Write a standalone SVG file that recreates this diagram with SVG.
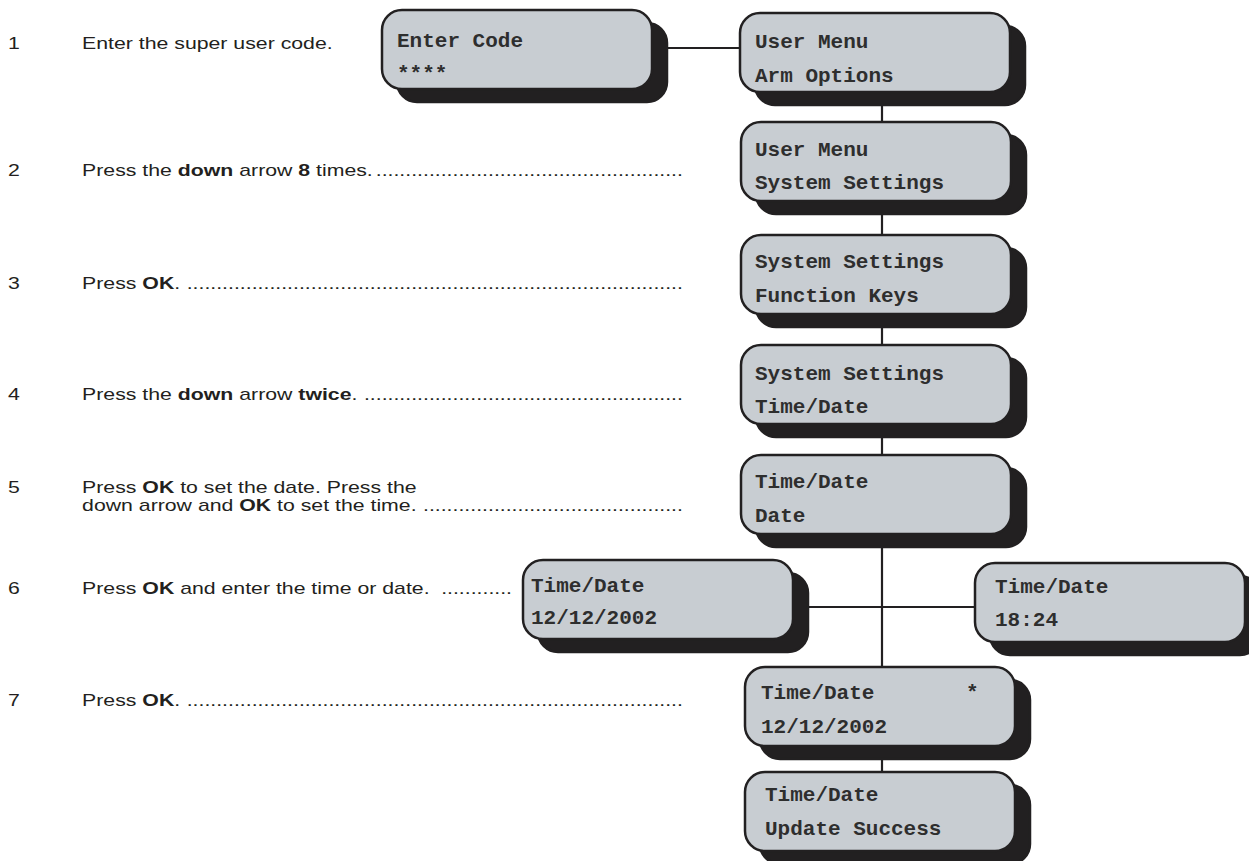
<svg xmlns="http://www.w3.org/2000/svg" width="1249" height="861" viewBox="0 0 1249 861">
<style>
.sh{fill:#222021;stroke:#222021;stroke-width:2.5}
.bx{fill:#c8cdd2;stroke:#222021;stroke-width:2.5}
.mono{font-family:"Liberation Mono","Courier New",monospace;font-weight:bold;font-size:21px;fill:#2e2e2e}
.st{font-family:"Liberation Sans",Arial,sans-serif;font-size:16px;fill:#231f20}
.b{font-weight:bold}
.ln{stroke:#222021;stroke-width:2.2;fill:none}
</style>
<defs>
<g id="box"><rect class="sh" x="15" y="13" width="270" height="79" rx="20"/><rect class="bx" x="0" y="0" width="270" height="79" rx="20"/></g>
</defs>
<rect width="1249" height="861" fill="#fff"/>
<g id="steps" transform="scale(1.33 1)">
<text class="st" x="6" y="49">1</text>
<text class="st" x="61.7" y="49">Enter the super user code.</text>
<text class="st" x="6" y="176">2</text>
<text class="st" x="61.7" y="176">Press the <tspan class="b">down</tspan> arrow <tspan class="b">8</tspan> times.</text>
<text class="st" x="513.5" y="176" text-anchor="end">....................................................</text>
<text class="st" x="6" y="289">3</text>
<text class="st" x="61.7" y="289">Press <tspan class="b">OK</tspan>.</text>
<text class="st" x="513.5" y="289" text-anchor="end">....................................................................................</text>
<text class="st" x="6" y="400">4</text>
<text class="st" x="61.7" y="400">Press the <tspan class="b">down</tspan> arrow <tspan class="b">twice</tspan>.</text>
<text class="st" x="513.5" y="400" text-anchor="end">......................................................</text>
<text class="st" x="6" y="493">5</text>
<text class="st" x="61.7" y="493">Press <tspan class="b">OK</tspan> to set the date. Press the</text>
<text class="st" x="61.7" y="511">down arrow and <tspan class="b">OK</tspan> to set the time.</text>
<text class="st" x="513.5" y="511" text-anchor="end">............................................</text>
<text class="st" x="6" y="594">6</text>
<text class="st" x="61.7" y="594">Press <tspan class="b">OK</tspan> and enter the time or date.</text>
<text class="st" x="385" y="594" text-anchor="end">............</text>
<text class="st" x="6" y="706">7</text>
<text class="st" x="61.7" y="706">Press <tspan class="b">OK</tspan>.</text>
<text class="st" x="513.5" y="706" text-anchor="end">....................................................................................</text>
</g>
<g id="connectors">
<path class="ln" d="M667,48 H741"/>
<path class="ln" d="M882,92 V772"/>
<path class="ln" d="M793,607 H976"/>
</g>
<g id="n-code"><use href="#box" x="382" y="10"/><text class="mono" x="397" y="47">Enter Code</text><text class="mono" x="397" y="80">****</text></g>
<g id="n-a"><use href="#box" x="740" y="13"/><text class="mono" x="755" y="48">User Menu</text><text class="mono" x="755" y="82">Arm Options</text></g>
<g id="n-b"><use href="#box" x="741" y="122"/><text class="mono" x="755" y="156">User Menu</text><text class="mono" x="755" y="189">System Settings</text></g>
<g id="n-c"><use href="#box" x="741" y="235"/><text class="mono" x="755" y="268">System Settings</text><text class="mono" x="755" y="302">Function Keys</text></g>
<g id="n-d"><use href="#box" x="741" y="345"/><text class="mono" x="755" y="380">System Settings</text><text class="mono" x="755" y="413">Time/Date</text></g>
<g id="n-e"><use href="#box" x="741" y="455"/><text class="mono" x="755" y="488">Time/Date</text><text class="mono" x="755" y="522">Date</text></g>
<g id="n-f"><use href="#box" x="523" y="560"/><text class="mono" x="531" y="592">Time/Date</text><text class="mono" x="531" y="624">12/12/2002</text></g>
<g id="n-g"><use href="#box" x="975" y="563"/><text class="mono" x="995" y="593">Time/Date</text><text class="mono" x="995" y="626">18:24</text></g>
<g id="n-h"><use href="#box" x="745" y="667"/><text class="mono" x="761" y="699">Time/Date</text><text class="mono" x="966" y="699">*</text><text class="mono" x="761" y="733">12/12/2002</text></g>
<g id="n-i"><use href="#box" x="745" y="772"/><text class="mono" x="765" y="801">Time/Date</text><text class="mono" x="765" y="835">Update Success</text></g>
</svg>
